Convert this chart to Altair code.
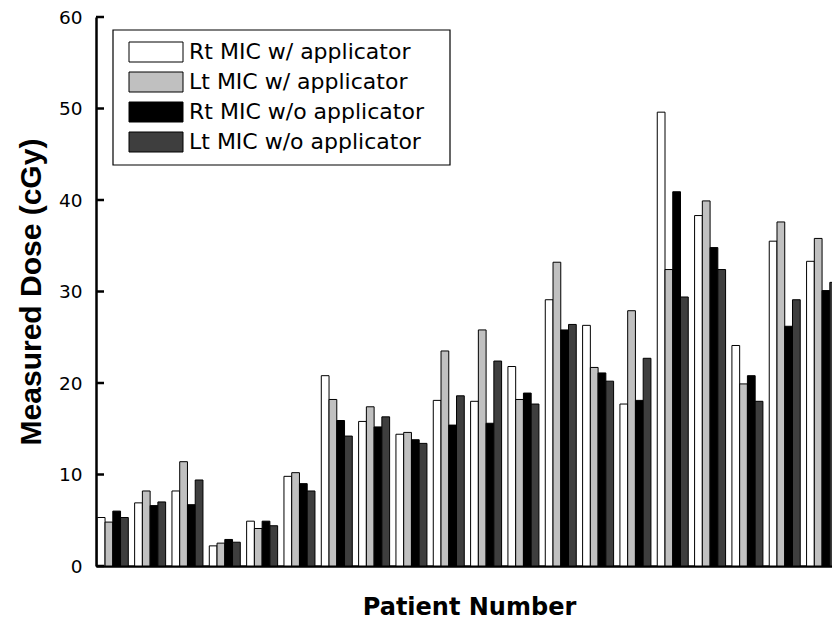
import altair as alt
import pandas as pd

patients = list(range(1, 21))
series = ["Rt MIC w/ applicator", "Lt MIC w/ applicator",
          "Rt MIC w/o applicator", "Lt MIC w/o applicator"]
colors = ["#ffffff", "#c0c0c0", "#000000", "#3e3e3e"]

rt_with = [5.3, 6.9, 8.2, 2.2, 4.9, 9.8, 20.8, 15.8, 14.4, 18.1,
           18.0, 21.8, 29.1, 26.3, 17.7, 49.6, 38.3, 24.1, 35.5, 33.3]
lt_with = [4.8, 8.2, 11.4, 2.5, 4.1, 10.2, 18.2, 17.4, 14.6, 23.5,
           25.8, 18.2, 33.2, 21.7, 27.9, 32.4, 39.9, 19.9, 37.6, 35.8]
rt_without = [6.0, 6.6, 6.7, 2.9, 4.9, 9.0, 15.9, 15.2, 13.8, 15.4,
              15.6, 18.9, 25.8, 21.1, 18.1, 40.9, 34.8, 20.8, 26.2, 30.1]
lt_without = [5.3, 7.0, 9.4, 2.6, 4.4, 8.2, 14.2, 16.3, 13.4, 18.6,
              22.4, 17.7, 26.4, 20.2, 22.7, 29.4, 32.4, 18.0, 29.1, 31.0]
y_ticks = [0, 10, 20, 30, 40, 50, 60]

rows = []
for sidx, (name, vals) in enumerate(zip(series, [rt_with, lt_with, rt_without, lt_without])):
    for p, v in zip(patients, vals):
        rows.append({"patient": p, "series": name, "sidx": sidx, "value": v})
df = pd.DataFrame(rows)
ticks_df = pd.DataFrame({"value": y_ticks})

WIDE = "DejaVu Sans"
ARIAL = "Liberation Sans"
W, H = 736, 549
units = W / 37.33

y_scale = alt.Scale(domain=[0, 60], nice=False)
y_axis = alt.Axis(title="Measured Dose (cGy)", values=y_ticks, ticks=False, tickSize=0,
                  grid=False, domainColor="black", domainWidth=2.5,
                  labelFont=WIDE, labelFontSize=18.5, labelColor="black",
                  labelPadding=14,
                  titleFont=ARIAL, titleFontSize=30, titleFontWeight="bold",
                  titleColor="black", titlePadding=12)

bars = alt.Chart(df).transform_calculate(
    x0="datum.patient - 1 + 0.035 + datum.sidx * 0.2076",
    x1="datum.patient - 1 + 0.035 + (datum.sidx + 1) * 0.2076",
).mark_bar(stroke="black", strokeWidth=1, clip=True, opacity=1).encode(
    x=alt.X("x0:Q", scale=alt.Scale(domain=[0, units], nice=False, zero=False),
            axis=alt.Axis(title="Patient Number", labels=False, ticks=False, grid=False,
                          domainColor="black", domainWidth=2.5,
                          titleFont=WIDE, titleFontSize=24, titleFontWeight="bold",
                          titleColor="black", titlePadding=29, titleX=373)),
    x2="x1:Q",
    y=alt.Y("value:Q", scale=y_scale, axis=y_axis),
    y2=alt.datum(0),
    color=alt.Color("series:N", scale=alt.Scale(domain=series, range=colors),
                    legend=alt.Legend(title=None, orient="none", legendX=49, legendY=24,
                                      symbolType="M-2.7,-1H2.7V1H-2.7Z", symbolSize=400,
                                      symbolStrokeColor="black", symbolStrokeWidth=1,
                                      symbolOpacity=1, labelLimit=500,
                                      labelFont=WIDE, labelFontSize=22, labelColor="black",
                                      labelOffset=22, rowPadding=6, padding=0)),
)

tick_rules = alt.Chart(ticks_df).mark_rule(color="black", strokeWidth=2.5).encode(
    y=alt.Y("value:Q", scale=y_scale, axis=y_axis),
    x=alt.value(0),
    x2=alt.value(8),
)

box = alt.Chart(ticks_df).transform_filter("datum.value == 0").mark_rect(
    fill=None, stroke="black", strokeWidth=1.2
).encode(
    x=alt.value(17), x2=alt.value(354), y=alt.value(13), y2=alt.value(148)
)

chart = alt.layer(bars, tick_rules, box).properties(
    width=W, height=H,
    background="white",
    autosize=alt.AutoSizeParams(type="none"),
    padding={"left": 96, "top": 17, "right": 0, "bottom": 57},
).configure_view(stroke=None)

chart.save("out.html", embed_options={"renderer": "svg", "actions": False})
